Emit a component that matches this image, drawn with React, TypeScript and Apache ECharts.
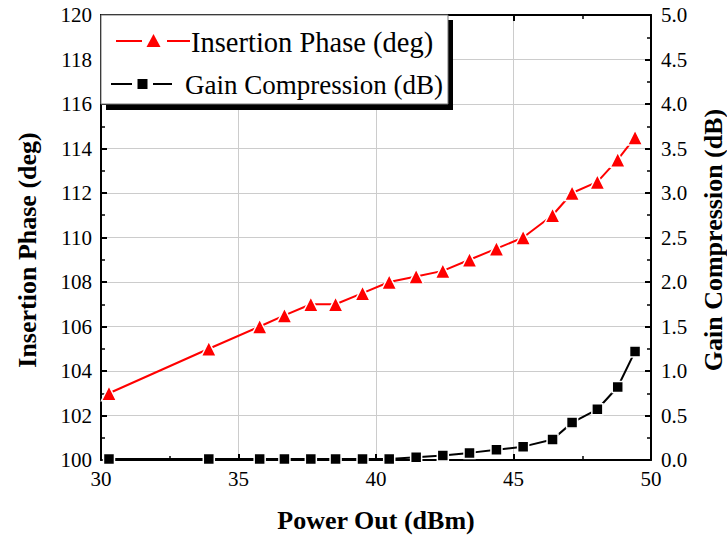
import React, { useEffect, useRef } from "react";
import * as echarts from "echarts";

const powerOut = [30.29, 33.92, 35.77, 36.67, 37.63, 38.53, 39.51, 40.48, 41.46, 42.43, 43.4, 44.38, 45.35, 46.42, 47.13, 48.05, 48.79, 49.42];
const insertionPhase = [103.0, 105.0, 106.0, 106.5, 107.0, 107.0, 107.5, 108.0, 108.25, 108.5, 109.0, 109.5, 110.0, 111.0, 112.0, 112.5, 113.5, 114.5];
const gainCompression = [0.01, 0.01, 0.01, 0.01, 0.01, 0.01, 0.01, 0.01, 0.03, 0.05, 0.08, 0.115, 0.15, 0.23, 0.42, 0.57, 0.82, 1.22];

const phaseName = "Insertion Phase (deg)";
const gainName = "Gain Compression (dB)";
const xName = "Power Out (dBm)";

const FONT = "'Liberation Serif', 'Times New Roman', serif";

export default function App() {
  const ref = useRef<HTMLDivElement>(null);
  useEffect(() => {
    if (!ref.current) return;
    const chart = echarts.init(ref.current, null, { renderer: "svg" });
    const phaseData = powerOut.map((x, i) => [x, insertionPhase[i]]);
    const gainData = powerOut.map((x, i) => [x, gainCompression[i]]);
    const axisLine = { show: true, lineStyle: { color: "#000", width: 2 } };
    const tickStyle = { show: true, inside: true, length: 6, lineStyle: { color: "#000", width: 2 } };
    const minorStyle = { show: true, splitNumber: 2, length: 4, lineStyle: { color: "#000", width: 1.5 } };
    const labelStyle = { color: "#000", fontFamily: FONT, fontSize: 21 };
    const nameStyle = { color: "#000", fontFamily: FONT, fontSize: 26, fontWeight: "bold" as const };
    const Z = 200;
    chart.setOption({
      animation: false,
      backgroundColor: "#fff",
      grid: { left: 101, right: 76, top: 15, bottom: 79, containLabel: false, outerBoundsMode: "none" },
      xAxis: [
        {
          type: "value",
          min: 30,
          max: 50,
          interval: 5,
          position: "bottom",
          name: xName,
          nameLocation: "middle",
          nameGap: 47,
          nameTextStyle: nameStyle,
          axisLine,
          axisTick: tickStyle,
          minorTick: minorStyle,
          axisLabel: { ...labelStyle, margin: 8 },
          splitLine: { show: true, lineStyle: { color: "#cccccc", width: 1 } },
        },
        {
          type: "value",
          min: 30,
          max: 50,
          interval: 5,
          position: "top",
          axisLine,
          axisTick: tickStyle,
          minorTick: minorStyle,
          axisLabel: { show: false },
          splitLine: { show: false },
        },
      ],
      yAxis: [
        {
          type: "value",
          min: 100,
          max: 120,
          interval: 2,
          position: "left",
          axisLine,
          axisTick: tickStyle,
          minorTick: minorStyle,
          axisLabel: { ...labelStyle, margin: 9 },
          splitLine: { show: true, lineStyle: { color: "#cccccc", width: 1 } },
        },
        {
          type: "value",
          min: 0,
          max: 5,
          interval: 0.5,
          position: "right",
          axisLine,
          axisTick: tickStyle,
          minorTick: minorStyle,
          axisLabel: { ...labelStyle, margin: 10, formatter: (v: number) => v.toFixed(1) },
          splitLine: { show: false },
        },
      ],
      series: [
        {
          name: phaseName,
          type: "line",
          xAxisIndex: 0,
          yAxisIndex: 0,
          data: phaseData,
          symbol: "triangle",
          symbolSize: 15,
          lineStyle: { color: "#ff0000", width: 2 },
          itemStyle: { color: "#ff0000", borderColor: "#fff", borderWidth: 1.5 },
          z: 3,
        },
        {
          name: gainName,
          type: "line",
          xAxisIndex: 0,
          yAxisIndex: 1,
          data: gainData,
          symbol: "rect",
          symbolSize: 11,
          lineStyle: { color: "#000", width: 2 },
          itemStyle: { color: "#000", borderColor: "#fff", borderWidth: 1.5 },
          z: 3,
        },
      ],
      graphic: [
        {
          type: "text",
          x: 27,
          y: 250,
          rotation: Math.PI / 2,
          style: { text: phaseName, fill: "#000", font: `bold 26px ${FONT}`, align: "center", verticalAlign: "middle" },
        },
        {
          type: "text",
          x: 713,
          y: 240,
          rotation: Math.PI / 2,
          style: { text: gainName, fill: "#000", font: `bold 26px ${FONT}`, align: "center", verticalAlign: "middle" },
        },
        { type: "rect", z: Z, shape: { x: 106, y: 20, width: 347, height: 90 }, style: { fill: "#000" } },
        { type: "rect", z: Z + 1, shape: { x: 101, y: 15, width: 347, height: 89 }, style: { fill: "#fff", stroke: "#777", lineWidth: 1 } },
        { type: "line", z: Z + 2, shape: { x1: 116, y1: 41, x2: 142, y2: 41 }, style: { stroke: "#ff0000", lineWidth: 2 } },
        { type: "line", z: Z + 2, shape: { x1: 167, y1: 41, x2: 190, y2: 41 }, style: { stroke: "#ff0000", lineWidth: 2 } },
        { type: "polygon", z: Z + 2, shape: { points: [[153.5, 34], [160.5, 47], [146.5, 47]] }, style: { fill: "#ff0000" } },
        { type: "text", z: Z + 2, x: 191, y: 42, style: { text: phaseName, fill: "#000", font: `28.5px ${FONT}`, verticalAlign: "middle", align: "left" } },
        { type: "line", z: Z + 2, shape: { x1: 111, y1: 84, x2: 132, y2: 84 }, style: { stroke: "#000", lineWidth: 2 } },
        { type: "line", z: Z + 2, shape: { x1: 153, y1: 84, x2: 172, y2: 84 }, style: { stroke: "#000", lineWidth: 2 } },
        { type: "rect", z: Z + 2, shape: { x: 137.5, y: 79, width: 10, height: 10 }, style: { fill: "#000" } },
        { type: "text", z: Z + 2, x: 185, y: 85, style: { text: gainName, fill: "#000", font: `27px ${FONT}`, verticalAlign: "middle", align: "left" } },
      ],
    });
    return () => chart.dispose();
  }, []);
  return <div ref={ref} style={{ position: "fixed", left: 0, top: 0, width: 727, height: 539 }} />;
}
